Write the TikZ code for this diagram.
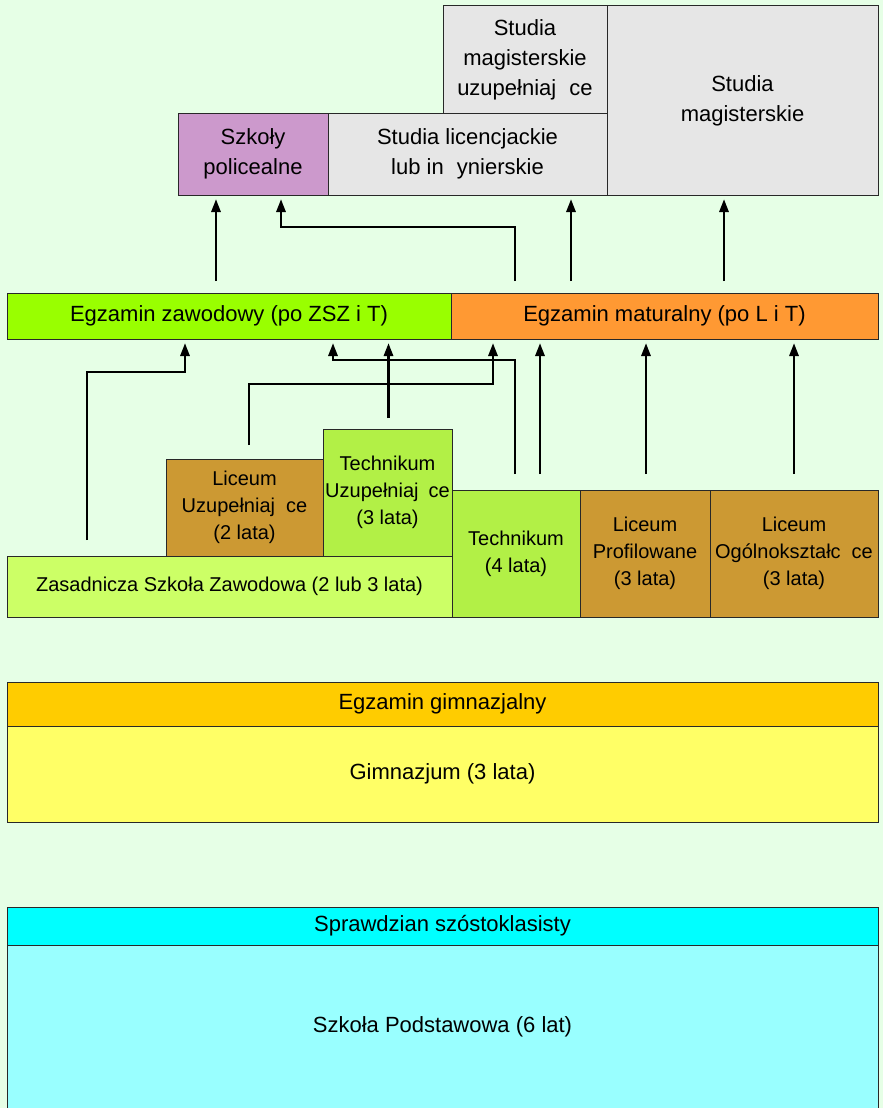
\documentclass[tikz,border=0pt]{standalone}
\usepackage{fontspec}
\setmainfont{Liberation Sans}
\usetikzlibrary{arrows.meta,calc}
\definecolor{bg}{RGB}{230,255,230}
\definecolor{edge}{RGB}{40,40,40}
\definecolor{grayfill}{RGB}{230,230,230}
\definecolor{purplefill}{RGB}{204,153,204}
\definecolor{zawgreen}{RGB}{153,255,0}
\definecolor{matorange}{RGB}{255,153,51}
\definecolor{brownfill}{RGB}{204,153,51}
\definecolor{techgreen}{RGB}{178,240,70}
\definecolor{zszgreen}{RGB}{204,255,102}
\definecolor{gimhead}{RGB}{255,204,0}
\definecolor{gimbody}{RGB}{255,255,102}
\definecolor{sprhead}{RGB}{0,255,255}
\definecolor{sprbody}{RGB}{153,255,255}
\begin{document}
\begin{tikzpicture}[x=1pt,y=-1pt,
  box/.style={draw=edge,line width=1pt,inner sep=0pt,outer sep=0pt,anchor=north west,align=center,text=black,font=\fontsize{22}{30}\selectfont},
  smallbox/.style={box,font=\fontsize{20}{27}\selectfont},
  arr/.style={draw=black,line width=2.8pt,-{Triangle[length=13pt,width=9pt]},shorten >=4pt}]
\useasboundingbox (0,0) rectangle (883,1108);
\fill[bg] (0,0) rectangle (883,1108);
\clip (0,0) rectangle (883,1108);
% top level
\node[box,fill=grayfill,minimum width=164pt,minimum height=107pt] (smu) at (443,6) {Studia\\magisterskie\\uzupełniaj\hspace{0.6em}ce};
\node[box,fill=grayfill,minimum width=271pt,minimum height=189pt] (mag) at (607,6) {Studia\\magisterskie};
\node[box,fill=purplefill,minimum width=150pt,minimum height=82pt] (pol) at (178,113) {Szkoły\\policealne};
\node[box,fill=grayfill,minimum width=279pt,minimum height=82pt] (lic) at (328,113) {Studia licencjackie\\lub in\hspace{0.6em}ynierskie};
% exams
\node[box,fill=zawgreen,minimum width=444pt,minimum height=46pt] (ezaw) at (7,293) {Egzamin zawodowy (po ZSZ i T)};
\node[box,fill=matorange,minimum width=427pt,minimum height=46pt] (emat) at (451,293) {Egzamin maturalny (po L i T)};
% secondary schools
\node[smallbox,fill=brownfill,minimum width=157pt,minimum height=97pt] (lu) at (166,459) {Liceum\\Uzupełniaj\hspace{0.55em}ce\\(2 lata)};
\node[smallbox,fill=techgreen,minimum width=129pt,minimum height=127pt] (tu) at (323,429) {Technikum\\Uzupełniaj\hspace{0.5em}ce\\(3 lata)};
\node[smallbox,fill=zszgreen,minimum width=445pt,minimum height=61pt] (zsz) at (7,556) {Zasadnicza Szkoła Zawodowa (2 lub 3 lata)};
\node[smallbox,fill=techgreen,minimum width=128pt,minimum height=127pt] (tech) at (452,490) {Technikum\\(4 lata)};
\node[smallbox,fill=brownfill,minimum width=130pt,minimum height=127pt] (lp) at (580,490) {Liceum\\Profilowane\\(3 lata)};
\node[smallbox,fill=brownfill,minimum width=168pt,minimum height=127pt] (lo) at (710,490) {Liceum\\Ogólnokształc\hspace{0.55em}ce\\(3 lata)};
% gimnazjum
\node[box,fill=gimhead,minimum width=871pt,minimum height=44pt] (egim) at (7,682) {Egzamin gimnazjalny};
\node[box,fill=gimbody,minimum width=871pt,minimum height=96pt] (gim) at (7,726) {Gimnazjum (3 lata)};
% szkoła podstawowa
\node[box,fill=sprhead,minimum width=871pt,minimum height=38pt] (spr) at (7,907) {Sprawdzian szóstoklasisty};
\node[box,fill=sprbody,minimum width=871pt,minimum height=164pt] (sp) at (7,945) {Szkoła Podstawowa (6 lat)};
% arrows from exams to higher education
\coordinate (t1) at (216,281);
\coordinate (t2) at (515,281);
\coordinate (k2) at (281,227);
\coordinate (t3) at (571,281);
\coordinate (t4) at (724,281);
\draw[arr] (t1) -- (t1 |- pol.south);
\draw[arr] (t2) |- (k2) -- (k2 |- pol.south);
\draw[arr] (t3) -- (t3 |- lic.south);
\draw[arr] (t4) -- (t4 |- mag.south);
% arrows from schools to exams
\coordinate (a0) at (87,540);
\coordinate (a1) at (185,372);
\coordinate (b0) at (249,445);
\coordinate (b1) at (493,384);
\coordinate (c0) at (388.5,418);
\coordinate (d0) at (515,474);
\coordinate (d1) at (333,360);
\coordinate (e0) at (540,474);
\coordinate (f0) at (646,474);
\coordinate (g0) at (794,474);
\draw[arr] (a0) |- (a1) -- (a1 |- ezaw.south);
\draw[arr] (b0) |- (b1) -- (b1 |- emat.south);
\draw[arr] (c0) -- (c0 |- ezaw.south);
\draw[arr] (d0) |- (d1) -- (d1 |- ezaw.south);
\draw[arr] (e0) -- (e0 |- emat.south);
\draw[arr] (f0) -- (f0 |- emat.south);
\draw[arr] (g0) -- (g0 |- emat.south);
\end{tikzpicture}
\end{document}
